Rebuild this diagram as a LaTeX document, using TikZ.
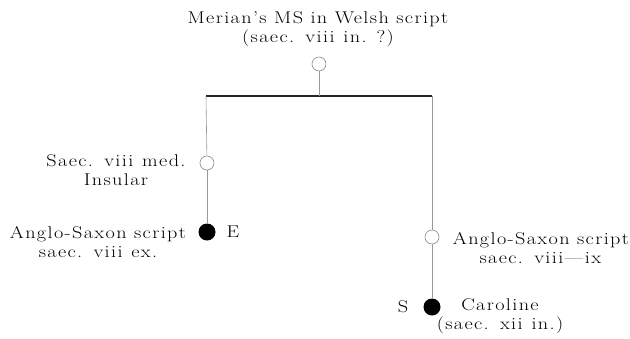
\documentclass[tikz,border=0pt]{standalone}
\usepackage{fontspec}
\setmainfont{Latin Modern Roman}[FakeStretch=1.19,LetterSpace=8]
\begin{document}
\begin{tikzpicture}[x=1pt,y=-1pt,
  opn/.style={circle,draw=black!45,line width=0.6pt,fill=white,minimum size=14pt,inner sep=0pt},
  full/.style={circle,fill=black,minimum size=17pt,inner sep=0pt},
  conn/.style={draw=black!40,line width=0.6pt},
  bar/.style={draw=black!85,line width=1.2pt},
  lbl/.style={align=center,inner sep=0pt,font=\fontsize{17}{19}\selectfont}]
\useasboundingbox (0,0) rectangle (630,338);
\node[lbl] (title) at (318,29) {Merian's MS in Welsh script\\(saec. \textsc{viii} in. ?)};
\node[opn] (top) at (319,64) {};
\coordinate (jT) at (319,96);
\coordinate (jL) at (206,96);
\coordinate (jR) at (432,96);
\node[opn] (m1) at (207,163) {};
\node[full] (E) at (207,232) {};
\node[opn] (m2) at (432,237) {};
\node[full] (S) at (432,307) {};
\draw[bar] (jL) -- (jR);
\draw[conn] (top) -- (jT);
\draw[conn] (jL) -- (m1);
\draw[conn] (m1) -- (E);
\draw[conn] (jR) -- (m2);
\draw[conn] (m2) -- (S);
\node[lbl] (m1t) at (116,170) {Saec. \textsc{viii} med.\\Insular};
\node[lbl] (Et) at (98,242) {Anglo-Saxon script\\saec. \textsc{viii} ex.};
\node[lbl] (El) at (233,232) {E};
\node[lbl] (m2t) at (541,248) {Anglo-Saxon script\\saec. \textsc{viii}---\textsc{ix}};
\node[lbl] (Sl) at (403,307) {S};
\node[lbl] (St) at (500,316) {Caroline\\(saec. \textsc{xii} in.)};
\end{tikzpicture}
\end{document}
